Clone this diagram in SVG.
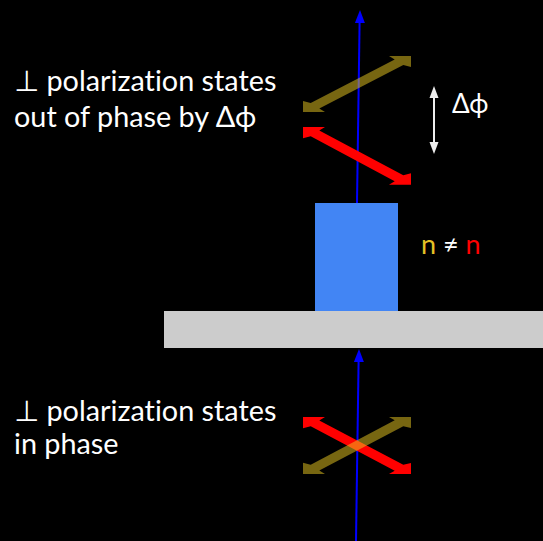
<svg xmlns="http://www.w3.org/2000/svg" width="543" height="541" viewBox="0 0 543 541">
<style>
.lbl{font-family:Lato,"Open Sans","DejaVu Sans",sans-serif;font-size:28.8px;fill:#ffffff;font-variant-ligatures:none}
.ray{stroke:#0000ff;stroke-width:2;fill:none}
.rayhead{fill:#0000ff}
.red{fill:#ff0000}
.olive{fill:#eecc22;opacity:0.5}
</style>
<defs>
<path id="darrow" d="M0,0 L22,0 L16.3,-3.4 L100.3,-46.9 L108,-45 L108,-56 L86,-56 L91.7,-52.6 L7.7,-9.1 L0,-11 Z"/>
</defs>
<rect x="0" y="0" width="543" height="541" fill="#000000"/>
<g id="plate"><rect x="164" y="311" width="379" height="37" fill="#cccccc"/></g>
<g id="crystal"><rect x="315" y="203" width="83" height="108" fill="#4285f4"/></g>
<g id="connectors">
<line class="ray" x1="357" y1="203" x2="359.6" y2="22"/>
<polygon class="rayhead" points="360,10 364.9,23 354.9,23"/>
<line class="ray" x1="356" y1="541" x2="358.6" y2="361"/>
<polygon class="rayhead" points="359,349 363.9,362 353.9,362"/>
<line stroke="#eeeeee" stroke-width="2" x1="434" y1="96" x2="434" y2="144"/>
<polygon fill="#eeeeee" points="434,86 438.5,98 429.5,98"/>
<polygon fill="#eeeeee" points="434,154 438.5,142 429.5,142"/>
</g>
<g id="out-states">
<use href="#darrow" class="red" transform="translate(303,127) scale(1,-1.03)"/>
<use href="#darrow" class="olive" transform="translate(303,112)"/>
</g>
<g id="in-states">
<use href="#darrow" class="red" transform="translate(303,417) scale(1,-1.02)"/>
<use href="#darrow" class="olive" transform="translate(303,474) scale(1,1.02)"/>
</g>
<g id="labels">
<text class="lbl" x="14" y="91">⊥ polarization states</text>
<text class="lbl" x="14" y="127">out of phase by Δϕ</text>
<text class="lbl" x="14" y="421">⊥ polarization states</text>
<text class="lbl" x="14" y="454">in phase</text>
<text class="lbl" x="452" y="113" style="font-size:26px">Δϕ</text>
<text class="lbl" x="421" y="254" style="font-size:27px"><tspan fill="#e6c026">n</tspan> ≠ <tspan fill="#ff0000">n</tspan></text>
</g>
</svg>
